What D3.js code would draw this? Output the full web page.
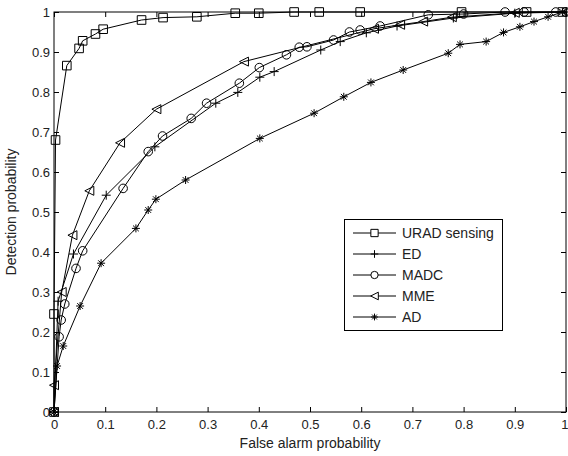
<html>
<head>
<style>
  body { margin: 0; background: #fff; }
  svg { font-family: 'Liberation Sans', Arial, sans-serif; }
  .tick text { font-size: 13px; fill: #222; }
  .axis-label { font-size: 14px; fill: #222; }
  .legend text { font-size: 14px; fill: #222; }
</style>
</head>
<body>
<svg width="568" height="456"></svg>
<script src="https://d3js.org/d3.v7.min.js"></script>
<script>
// values
let uradX = [0, 0, 0.003, 0.025, 0.049, 0.056, 0.081, 0.096, 0.171, 0.213, 0.279, 0.354, 0.40, 0.469, 0.518, 0.598, 0.796, 0.923, 0.993]
let uradY = [0, 0.245, 0.68, 0.866, 0.909, 0.928, 0.945, 0.957, 0.98, 0.986, 0.988, 0.997, 0.997, 1, 1, 1, 1, 1, 1]

let edX = [0, 0.008, 0.038, 0.102, 0.197, 0.316, 0.359, 0.402, 0.43, 0.521, 0.559, 0.61, 0.67, 0.78, 0.9, 1]
let edY = [0, 0.277, 0.395, 0.542, 0.663, 0.772, 0.799, 0.837, 0.851, 0.905, 0.926, 0.948, 0.965, 0.985, 0.997, 1]

let madcX = [0, 0.01, 0.014, 0.021, 0.043, 0.056, 0.135, 0.184, 0.212, 0.268, 0.298, 0.362, 0.401, 0.454, 0.479, 0.494, 0.546, 0.577, 0.598, 0.637, 0.731, 0.80, 0.881, 0.918, 0.98, 1]
let madcY = [0, 0.188, 0.23, 0.27, 0.359, 0.403, 0.559, 0.651, 0.69, 0.734, 0.772, 0.822, 0.861, 0.893, 0.912, 0.913, 0.93, 0.95, 0.955, 0.965, 0.993, 0.995, 1, 1, 1, 1]

let mmeX = [0, 0, 0.015, 0.036, 0.069, 0.129, 0.2, 0.371, 0.625, 0.676, 0.721, 0.777, 0.9, 1]
let mmeY = [0, 0.067, 0.3, 0.442, 0.553, 0.673, 0.757, 0.876, 0.958, 0.968, 0.976, 0.987, 0.998, 1]

let adX = [0, 0.006, 0.018, 0.051, 0.092, 0.16, 0.184, 0.199, 0.257, 0.402, 0.508, 0.566, 0.619, 0.682, 0.770, 0.793, 0.844, 0.878, 0.910, 0.9375, 0.965, 0.993]
let adY = [0, 0.115, 0.165, 0.265, 0.372, 0.459, 0.505, 0.532, 0.58, 0.684, 0.747, 0.788, 0.824, 0.855, 0.897, 0.919, 0.926, 0.949, 0.963, 0.976, 0.988, 1]

let names = ["URAD sensing", "ED", "MADC", "MME", "AD"]
let markers = ["square", "plus", "circle", "triangle", "star"]
let xTicks = [0, 0.1, 0.2, 0.3, 0.4, 0.5, 0.6, 0.7, 0.8, 0.9, 1]
let yTicks = [0, 0.1, 0.2, 0.3, 0.4, 0.5, 0.6, 0.7, 0.8, 0.9, 1]

let series = [
  {name: names[0], marker: markers[0], xs: uradX, ys: uradY},
  {name: names[1], marker: markers[1], xs: edX, ys: edY},
  {name: names[2], marker: markers[2], xs: madcX, ys: madcY},
  {name: names[3], marker: markers[3], xs: mmeX, ys: mmeY},
  {name: names[4], marker: markers[4], xs: adX, ys: adY}
]

let svg = d3.select("svg")
let margin = {top: 12, right: 2, bottom: 44, left: 54}
let width = 568, height = 456

let x = d3.scaleLinear().domain([0, 1]).range([margin.left, width - margin.right])
let y = d3.scaleLinear().domain([0, 1]).range([height - margin.bottom, margin.top])

// marker shapes, centered on 0,0
function markerPath(type, r) {
  if (type == "square") return `M${-r},${-r}H${r}V${r}H${-r}Z`
  if (type == "circle") return `M${-r},0A${r},${r} 0 1,0 ${r},0A${r},${r} 0 1,0 ${-r},0`
  if (type == "plus") return `M${-r},0H${r}M0,${-r}V${r}`
  if (type == "triangle") return `M${-r},0L${r},${-r}L${r},${r}Z`
  if (type == "star") {
    let d = r * 0.72
    return `M${-r},0H${r}M0,${-r}V${r}M${-d},${-d}L${d},${d}M${-d},${d}L${d},${-d}`
  }
}
let markerSize = {square: 4.3, circle: 4.3, plus: 4.5, triangle: 4.5, star: 4}

// axes with inward ticks on all four sides
svg.append("g")
  .attr("class", "x axis")
  .attr("transform", `translate(0,${y(0)})`)
  .call(d3.axisBottom(x).tickValues(xTicks).tickSize(-5).tickPadding(8).tickFormat(d3.format("")))
  .call(g => g.select(".domain").remove())
  .call(g => g.selectAll(".tick text").filter(d => d == 1).attr("text-anchor", "end").attr("dx", 2))

svg.append("g")
  .attr("transform", `translate(0,${y(1)})`)
  .call(d3.axisTop(x).tickValues(xTicks).tickSize(-5).tickFormat(""))
  .call(g => g.select(".domain").remove())

svg.append("g")
  .attr("class", "y axis")
  .attr("transform", `translate(${x(0)},0)`)
  .call(d3.axisLeft(y).tickValues(yTicks).tickSize(-5).tickPadding(4).tickFormat(d3.format("")))
  .call(g => g.select(".domain").remove())

svg.append("g")
  .attr("transform", `translate(${x(1)},0)`)
  .call(d3.axisRight(y).tickValues(yTicks).tickSize(-5).tickFormat(""))
  .call(g => g.select(".domain").remove())

svg.selectAll(".tick line").attr("stroke", "#000")

svg.append("rect")
  .attr("x", x(0)).attr("y", y(1))
  .attr("width", x(1) - x(0)).attr("height", y(0) - y(1))
  .attr("fill", "none").attr("stroke", "#000").attr("stroke-width", 1)

let line = d3.line().x(d => x(d[0])).y(d => y(d[1]))

series.forEach(s => {
  let pts = s.xs.map((v, i) => [v, s.ys[i]])
  let g = svg.append("g")
  g.append("path")
    .attr("d", line(pts))
    .attr("fill", "none").attr("stroke", "#000").attr("stroke-width", 1)
  g.selectAll("path.m")
    .data(pts)
    .join("path")
    .attr("class", "m")
    .attr("transform", d => `translate(${x(d[0])},${y(d[1])})`)
    .attr("d", markerPath(s.marker, markerSize[s.marker]))
    .attr("fill", "none").attr("stroke", "#000").attr("stroke-width", 1)
})

// axis labels
svg.append("text")
  .attr("class", "axis-label")
  .attr("x", (x(0) + x(1)) / 2)
  .attr("y", 448)
  .attr("text-anchor", "middle")
  .text("False alarm probability")

svg.append("text")
  .attr("class", "axis-label")
  .attr("transform", `translate(16,${(y(0) + y(1)) / 2}) rotate(-90)`)
  .attr("text-anchor", "middle")
  .text("Detection probability")

// legend
let legend = svg.append("g").attr("class", "legend")
legend.append("rect")
  .attr("x", 344.5).attr("y", 219.5).attr("width", 158).attr("height", 111)
  .attr("fill", "#fff").attr("stroke", "#000")

let ly = d3.scalePoint().domain(names).range([233, 317])
series.forEach(s => {
  let yy = ly(s.name)
  legend.append("line")
    .attr("x1", 353).attr("x2", 396).attr("y1", yy).attr("y2", yy)
    .attr("stroke", "#000")
  legend.append("path")
    .attr("transform", `translate(374.5,${yy})`)
    .attr("d", markerPath(s.marker, markerSize[s.marker] * 0.85))
    .attr("fill", "#fff").attr("stroke", "#000")
  legend.append("text")
    .attr("x", 402).attr("y", yy + 5)
    .text(s.name)
})
</script>
</body>
</html>
